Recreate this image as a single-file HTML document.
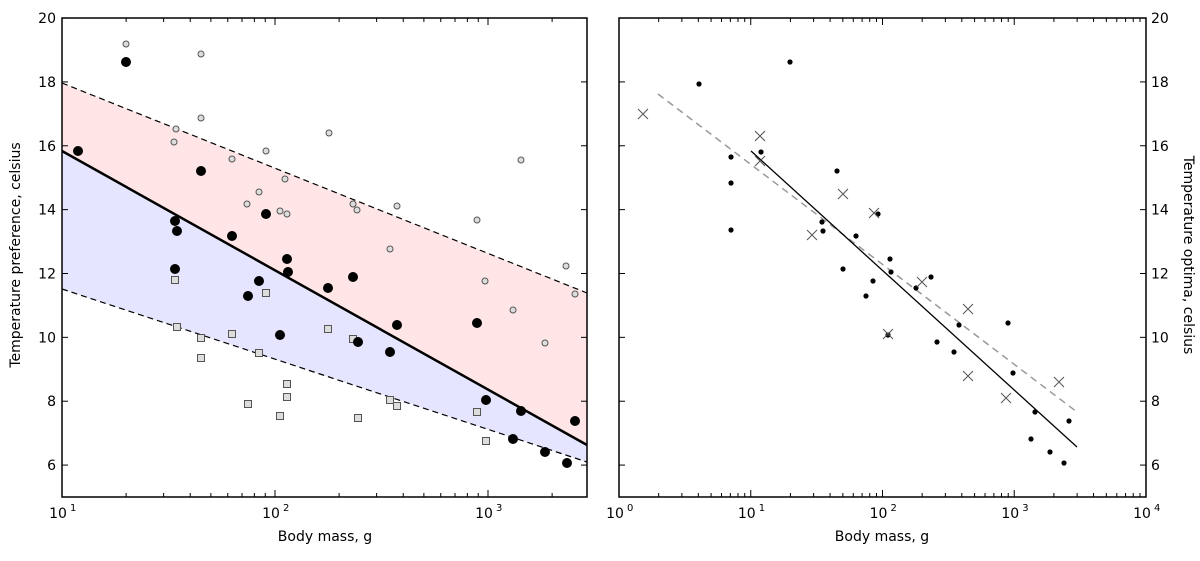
<!DOCTYPE html>
<html><head><meta charset="utf-8"><style>
body{margin:0;background:#fff;width:1200px;height:556px;overflow:hidden}
svg text{font-family:"DejaVu Sans","Liberation Sans",sans-serif;fill:#000}
</style></head><body>
<svg id="s" width="1200" height="556" xmlns="http://www.w3.org/2000/svg">
<polygon points="62,83 587,293 587,445 62,151" fill="#ffe5e5"/>
<polygon points="62,151 587,445 587,462 62,289" fill="#e5e5ff"/>
<line x1="62" y1="83" x2="587" y2="293" stroke="#000" stroke-width="1.2" stroke-dasharray="6,4"/>
<line x1="62" y1="289" x2="587" y2="462" stroke="#000" stroke-width="1.2" stroke-dasharray="6,4"/>
<line x1="62" y1="151" x2="587" y2="445" stroke="#000" stroke-width="2.5"/>
<g id="L"></g>
<line x1="658" y1="94" x2="1077" y2="412" stroke="#999" stroke-width="1.5" stroke-dasharray="7,5"/>
<line x1="751" y1="151" x2="1077" y2="447" stroke="#000" stroke-width="1.3"/>
<g id="R"></g>
<g id="ax"></g>
<text x="20" y="255" font-size="14" text-anchor="middle" transform="rotate(-90 20 255)">Temperature preference, celsius</text>
<text x="325" y="541" font-size="14" text-anchor="middle">Body mass, g</text>
<text x="882" y="541" font-size="14" text-anchor="middle">Body mass, g</text>
<text x="1184" y="255" font-size="14" text-anchor="middle" transform="rotate(90 1184 255)">Temperature optima, celsius</text>
</svg>
<script>
const NS="http://www.w3.org/2000/svg";
function el(p,t,a){const e=document.createElementNS(NS,t);for(const k in a)e.setAttribute(k,a[k]);p.appendChild(e);return e;}
const L=document.getElementById('L'),R=document.getElementById('R'),ax=document.getElementById('ax');
const sq=[[175,280],[177,327],[201,338],[201,358],[232,334],[248,404],[259,353],[266,293],[280,416],[287,384],[287,397],[328,329],[353,339],[358,418],[390,400],[397,406],[477,412],[486,441]];
sq.forEach(p=>el(L,'rect',{x:p[0]-3.5,y:p[1]-3.5,width:7,height:7,fill:'#ddd',stroke:'#555','stroke-width':1}));
const oc=[[126,44],[201,54],[201,118],[176,129],[174,142],[232,159],[266,151],[329,133],[247,204],[259,192],[287,214],[285,179],[280,211],[353,204],[357,210],[397,206],[390,249],[477,220],[485,281],[513,310],[521,160],[545,343],[566,266],[575,294]];
oc.forEach(p=>el(L,'circle',{cx:p[0],cy:p[1],r:3,fill:'#ddd',stroke:'#555','stroke-width':1}));
const bd=[[78,151],[126,62],[175,221],[177,231],[201,171],[175,269],[232,236],[248,296],[259,281],[266,214],[280,335],[287,259],[288,272],[328,288],[353,277],[358,342],[390,352],[397,325],[477,323],[486,400],[521,411],[513,439],[545,452],[567,463],[575,421]];
bd.forEach(p=>el(L,'circle',{cx:p[0],cy:p[1],r:5,fill:'#000'}));
const rd=[[699,84],[790,62],[731,157],[731,183],[731,230],[761,152],[837,171],[878,214],[822,222],[823,231],[856,236],[890,259],[891,272],[873,281],[866,296],[931,277],[916,288],[959,325],[937,342],[954,352],[888,335],[1008,323],[1013,373],[1035,412],[1031,439],[1050,452],[1064,463],[1069,421],[843,269]];
rd.forEach(p=>el(R,'circle',{cx:p[0],cy:p[1],r:2.6,fill:'#000'}));
const rx=[[643,114],[760,136],[760,161],[812,235],[843,194],[874,213],[888,334],[922,282],[968,309],[968,376],[1006,398],[1059,382]];
rx.forEach(p=>{const s=5;el(R,'path',{d:`M${p[0]-s},${p[1]-s}L${p[0]+s},${p[1]+s}M${p[0]-s},${p[1]+s}L${p[0]+s},${p[1]-s}`,stroke:'#555','stroke-width':1,fill:'none'});});
function frame(x0,x1){el(ax,'rect',{x:x0,y:18,width:x1-x0,height:479,fill:'none',stroke:'#000','stroke-width':1.5});}
frame(62,587);frame(619,1146);
const yv=v=>497-(v-5)*31.93;
for(let v=6;v<=20;v+=2){const y=yv(v);
 el(ax,'line',{x1:62,y1:y,x2:68,y2:y,stroke:'#000'});el(ax,'line',{x1:581,y1:y,x2:587,y2:y,stroke:'#000'});
 el(ax,'line',{x1:619,y1:y,x2:625,y2:y,stroke:'#000'});el(ax,'line',{x1:1140,y1:y,x2:1146,y2:y,stroke:'#000'});
 el(ax,'text',{x:56,y:y+5,'font-size':14,'text-anchor':'end'}).textContent=v;
 el(ax,'text',{x:1151,y:y+5,'font-size':14}).textContent=v;}
function xt(x0,dec,d0,d1,xmax){for(let d=d0;d<=d1;d++){for(let m=1;m<10;m++){const x=x0+(d-d0+Math.log10(m))*dec;if(x>xmax+0.5)break;const len=m==1?7:4;
 el(ax,'line',{x1:x,y1:497,x2:x,y2:497-len,stroke:'#000'});el(ax,'line',{x1:x,y1:18,x2:x,y2:18+len,stroke:'#000'});
 if(m==1){const t=el(ax,'text',{x:x-4,y:518,'font-size':14,'text-anchor':'middle'});t.textContent='10';const s=el(ax,'text',{x:x+8,y:511,'font-size':10});s.textContent=d;}}}}
xt(62,213,1,3,587);xt(619,131.75,0,4,1146);
</script>
</body></html>
